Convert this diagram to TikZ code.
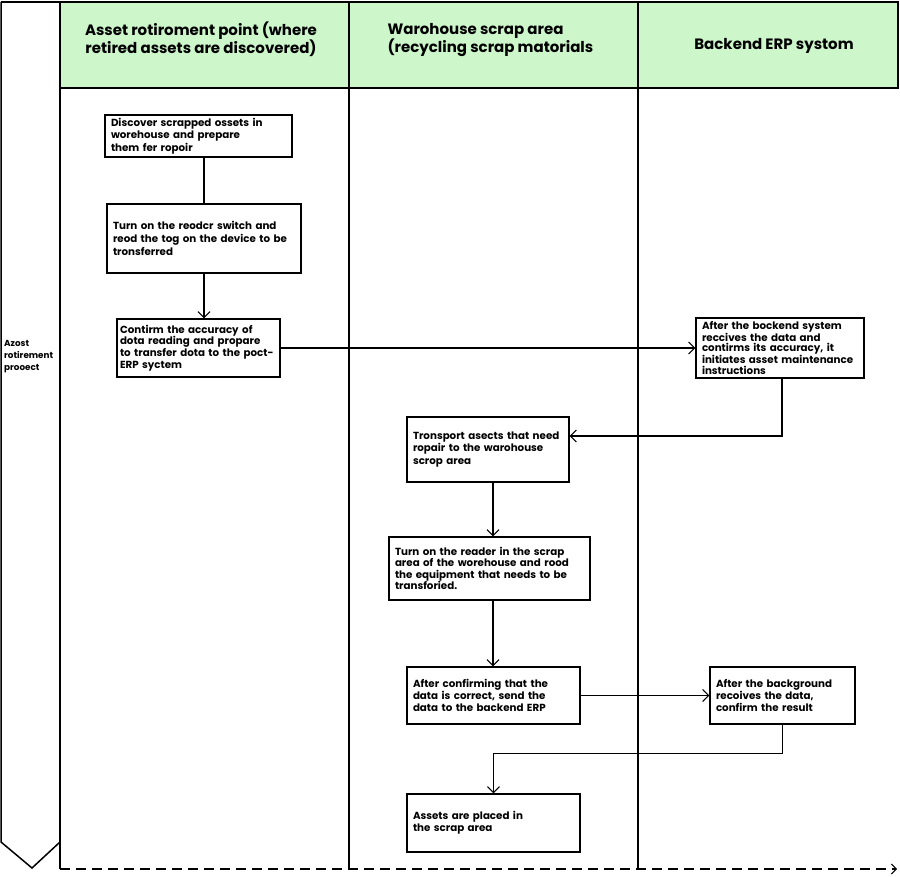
\documentclass[tikz,border=0pt]{standalone}
\usepackage{fontspec}
\setmainfont{Poppins}
\usetikzlibrary{arrows.meta}
\definecolor{hdrgreen}{HTML}{CDF6CB}
\begin{document}
\begin{tikzpicture}[x=1pt,y=-1pt,
  lane/.style={line width=1.5pt,black},
  box/.style={draw,line width=1.4pt,fill=white,inner xsep=6pt,inner ysep=3pt,
    font=\fontsize{10.3}{12.6}\selectfont\bfseries,align=left,text width=#1},
  tight/.style={font=\fontsize{10.3}{11.6}\selectfont\bfseries},
  arr/.style={line width=1.2pt,-{Straight Barb[length=6pt,width=12pt,line width=1pt]}},
  conn/.style={line width=1.2pt},
  hdr/.style={font=\fontsize{15}{18.5}\selectfont\bfseries}
]
\useasboundingbox (0,0) rectangle (900,877);
% header band
\fill[hdrgreen] (60,2) rectangle (898,88);
\draw[lane] (1,2) -- (898,2) -- (898,88) -- (60,88);
% lanes
\draw[lane] (60,2) -- (60,869);
\draw[lane] (349,2) -- (349,869);
\draw[lane] (638,2) -- (638,869);
% left process column (down arrow)
\draw[lane,line join=miter] (1,2) -- (1,842) -- (32,868) -- (60,842);
\draw[line width=1.3pt,dash pattern=on 10pt off 6pt,-{Straight Barb[length=5pt,width=10pt,line width=1pt]}] (60,869) -- (897,869);
% header texts
\node[hdr,align=center] (h1) at (201,39) {Asset rotiroment point (where\\retired assets are discovered)};
\node[hdr,align=left,anchor=west] (h2) at (384,40) {Warohouse scrap area\\(recycling scrap matorials};
\node[hdr] (h3) at (774,46) {Backend ERP systom};
\node[font=\fontsize{8.8}{12}\selectfont\bfseries,align=left,anchor=west,inner sep=0pt] (side) at (4,357) {Azost\\rotirement\\prooect};
% boxes
\node[box=175pt,minimum width=187pt,minimum height=42pt] (b1) at (198.5,136) {Discover scrapped ossets in\\worehouse and prepare\\them fer ropoir};
\node[box=182pt,minimum width=194pt,minimum height=69pt] (b2) at (204,238.5) {Turn on the reodcr switch and\\reod the tog on the device to be\\tronsferred};
\node[box=157pt,minimum width=163pt,minimum height=58pt,tight,inner xsep=3pt] (b3) at (198.5,348) {Contirm the accuracy of\\dota reading and propare\\to transfer dota to the poct-\\ERP syctem};
\node[box=156pt,minimum width=168pt,minimum height=58pt,font=\fontsize{10.3}{10.9}\selectfont\bfseries] (b4) at (780,348) {After the bockend system\\reccives the data and\\contirms its accuracy, it\\initiates asset maintenance\\instructions};
\node[box=150pt,minimum width=162pt,minimum height=65pt] (b5) at (488,449.5) {Tronsport asects that need\\ropair to the warohouse\\scrop area};
\node[box=189pt,minimum width=201pt,minimum height=63pt,tight] (b6) at (489.5,568.5) {Turn on the reader in the scrap\\area of the worehouse and rood\\the equipment that needs to be\\transforied.};
\node[box=161pt,minimum width=173pt,minimum height=57pt,tight] (b7) at (493.5,695.5) {After confirming that the\\data is correct, send the\\data to the backend ERP};
\node[box=133pt,minimum width=145pt,minimum height=57pt,tight] (b8) at (782.5,695.5) {After the background\\recoives the data,\\confirm the result};
\node[box=161pt,minimum width=173pt,minimum height=58pt,tight] (b9) at (493.5,823) {Assets are placed in\\the scrap area};
% connectors
\draw[conn] (b2.north |- b1.south) -- (b2.north);
\draw[arr] (b2.south) -- (b2.south |- b3.north);
\draw[arr] (b3.east) -- (b4.west);
\coordinate (c5) at (b5.north east |- 0,436);
\draw[arr] ([xshift=2pt]b4.south) |- (c5);
\draw[arr] ([xshift=5pt]b5.south) -- ([xshift=5pt]b5.south |- b6.north);
\draw[arr] ([xshift=3.5pt]b6.south) -- ([xshift=3.5pt]b6.south |- b7.north);
\draw[arr] (b7.east) -- (b8.west);
\draw[arr] (b8.south) -- ++(0,29) -| (b9.north);
\end{tikzpicture}
\end{document}
